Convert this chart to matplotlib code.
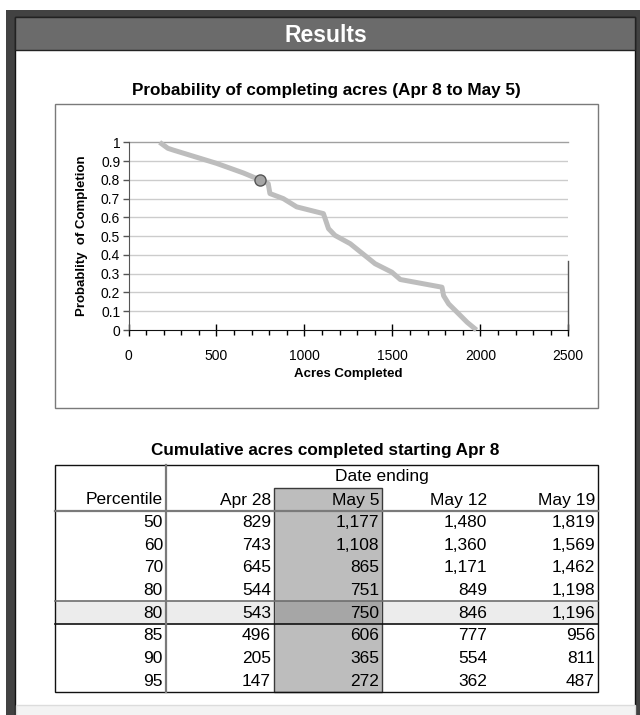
import numpy as np
import matplotlib
matplotlib.use("Agg")
import matplotlib.pyplot as plt
from matplotlib.patches import Rectangle

plt.rcParams["font.family"] = ["Liberation Sans", "DejaVu Sans"]

# curve
acres = [177, 224, 253, 500, 652, 747, 794, 804, 880, 956, 1108, 1137, 1174,
         1260, 1402, 1497, 1545, 1782, 1791, 1820, 1877, 1925, 1978]
prob = [1.0, 0.968, 0.959, 0.888, 0.837, 0.80, 0.78, 0.727, 0.70, 0.656, 0.62,
        0.54, 0.504, 0.46, 0.353, 0.308, 0.269, 0.228, 0.183, 0.139, 0.086,
        0.041, 0.0]
marker_x, marker_y = 750, 0.80

# table
col_labels = ["Percentile", "Apr 28", "May 5", "May 12", "May 19"]
percentiles = [50, 60, 70, 80, 80, 85, 90, 95]
apr28 = [829, 743, 645, 544, 543, 496, 205, 147]
may5 = [1177, 1108, 865, 751, 750, 606, 365, 272]
may12 = [1480, 1360, 1171, 849, 846, 777, 554, 362]
may19 = [1819, 1569, 1462, 1198, 1196, 956, 811, 487]
highlight_row = 4
shade_col = 2

W, H = 640, 715
fig = plt.figure(figsize=(W / 100, H / 100), dpi=100)


def px_box(x0, y0, x1, y1):
    return [x0 / W, 1 - y1 / H, (x1 - x0) / W, (y1 - y0) / H]


bg = fig.add_axes([0, 0, 1, 1], zorder=0)
bg.set_xlim(0, W)
bg.set_ylim(H, 0)
bg.axis("off")

# frame + header
bg.add_patch(Rectangle((6, 10), 640, 720, fc="#424242", ec="none"))
bg.add_patch(Rectangle((15, 17), 620, 700, fc="white", ec="#111111", lw=1))
bg.add_patch(Rectangle((15, 17), 620, 33, fc="#6b6b6b", ec="#222222", lw=1))
bg.add_patch(Rectangle((15.5, 705), 619, 12, fc="#f3f3f3", ec="#dcdcdc", lw=1))
bg.text(326, 35, "Results", color="white", fontsize=16.5, fontweight="bold",
        ha="center", va="center")

bg.text(326, 90, "Probability of completing acres (Apr 8 to May 5)",
        fontsize=12.3, fontweight="bold", ha="center", va="center")
bg.add_patch(Rectangle((55, 104), 543, 304, fc="white", ec="#7a7a7a", lw=1))

# chart
ax = fig.add_axes(px_box(128.5, 142.3, 568.3, 330), zorder=1)
ax.set_xlim(0, 2500)
ax.set_ylim(0, 1)
ax.set_yticks(np.arange(0, 1.01, 0.1))
ax.set_yticklabels(["0"] + [f"{v:.1f}" for v in np.arange(0.1, 0.95, 0.1)] + ["1"])
ax.set_xticks([0, 500, 1000, 1500, 2000, 2500])
ax.set_xticks(np.arange(0, 2501, 100), minor=True)
for v in np.arange(0.1, 0.95, 0.1):
    ax.axhline(v, color="#cccccc", lw=1, zorder=1)
ax.axhline(1.0, color="#a0a0a0", lw=1, zorder=1, clip_on=False)
ax.plot([2500, 2500], [0, 0.37], color="#555555", lw=1, clip_on=False)
for s in ["top", "right"]:
    ax.spines[s].set_visible(False)
ax.spines["left"].set_color("#555555")
ax.spines["bottom"].set_color("#111111")
ax.tick_params(axis="y", direction="out", length=4, width=1, color="#555555",
               pad=2, labelsize=10)
ax.tick_params(axis="x", which="major", direction="inout", length=8, width=1,
               pad=10, labelsize=10)
ax.tick_params(axis="x", which="minor", direction="out", length=3.5, width=1)
ax.plot(acres, prob, color="#bdbdbd", lw=3.6, solid_capstyle="butt",
        solid_joinstyle="round", zorder=3, clip_on=False)
ax.plot([marker_x], [marker_y], "o", ms=8, mfc="#a5a5a5", mec="#555555",
        mew=1, zorder=4, clip_on=False)
ax.set_xlabel("Acres Completed", fontsize=9.5, fontweight="bold", labelpad=3)
ax.set_ylabel("Probablity  of Completion", fontsize=9.5, fontweight="bold",
              labelpad=9)

# table
bg.text(325, 450, "Cumulative acres completed starting Apr 8",
        fontsize=12.3, fontweight="bold", ha="center", va="center")
edges = [55, 166, 274, 382, 490, 598]
t_top, h_top, r_top, r_h = 465, 488, 511, 22.6
n = len(percentiles)
t_bot = r_top + n * r_h

hl_y = r_top + highlight_row * r_h
bg.add_patch(Rectangle((edges[0], hl_y), edges[-1] - edges[0], r_h,
                       fc="#ececec", ec="none"))
bg.add_patch(Rectangle((edges[shade_col], h_top), edges[shade_col + 1] - edges[shade_col],
                       t_bot - h_top, fc="#bdbdbd", ec="#3a3a3a", lw=1))
bg.add_patch(Rectangle((edges[shade_col] + 0.5, hl_y), edges[shade_col + 1] - edges[shade_col] - 1,
                       r_h, fc="#a6a6a6", ec="none"))
bg.plot([edges[0], edges[-1]], [hl_y, hl_y], color="#6e6e6e", lw=1.2)
bg.plot([edges[0], edges[-1]], [hl_y + r_h, hl_y + r_h], color="#111111", lw=1.2)
bg.plot([edges[0], edges[-1]], [r_top, r_top], color="#7a7a7a", lw=1.6)
bg.plot([edges[1], edges[1]], [t_top, t_bot], color="#7a7a7a", lw=1.6)
bg.add_patch(Rectangle((edges[0], t_top), edges[-1] - edges[0], t_bot - t_top,
                       fc="none", ec="#111111", lw=1))

bg.text((edges[1] + edges[-1]) / 2, 477, "Date ending", fontsize=12.5,
        ha="center", va="center")
for j, lab in enumerate(col_labels):
    bg.text(edges[j + 1] - 3, 500, lab, fontsize=12.5, ha="right", va="center")

cols = [percentiles, apr28, may5, may12, may19]
for j, col in enumerate(cols):
    for i, v in enumerate(col):
        bg.text(edges[j + 1] - 3, r_top + (i + 0.5) * r_h + 0.5, f"{v:,}",
                fontsize=12.5, ha="right", va="center")

fig.savefig("out.png", dpi=100)
